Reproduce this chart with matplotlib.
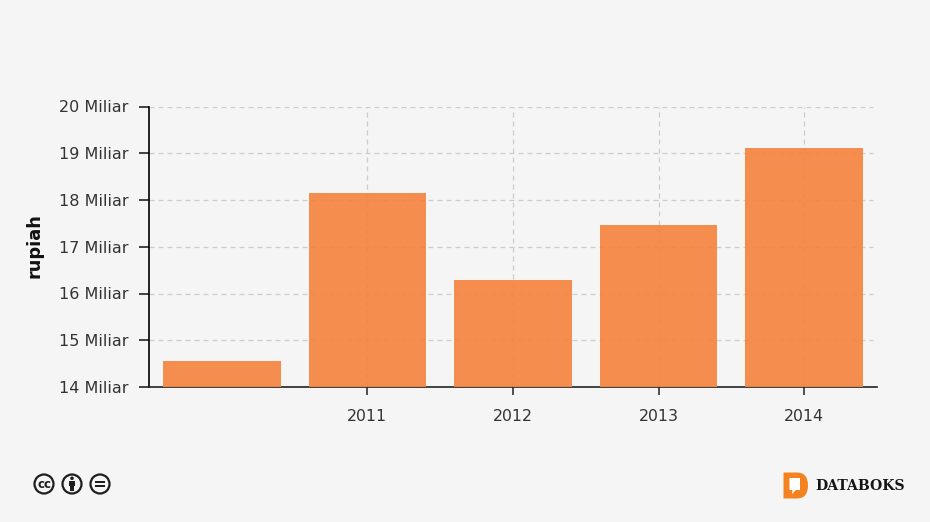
import numpy as np
import matplotlib.pyplot as plt
from matplotlib.patches import Circle, Rectangle, PathPatch, Polygon
from matplotlib.path import Path

years = ['', '2011', '2012', '2013', '2014']
values = [14.55, 18.15, 16.29, 17.47, 19.11]
yticks = [14, 15, 16, 17, 18, 19, 20]
ylabels = ['%d Miliar' % v for v in yticks]

W, H = 930, 522
bg = '#f5f5f5'
fig = plt.figure(figsize=(W/100, H/100), dpi=100, facecolor=bg)
ax = fig.add_axes([149/W, 1-387/H, 728/W, 280.5/H], facecolor=bg)

x = np.arange(len(years))
ax.bar(x, values, width=0.807, color='#f4843f', alpha=0.92, zorder=3)
ax.set_xlim(-0.5, 4.5)
ax.set_ylim(14, 20)

# grid, the empty first category gets no line
for t in yticks[1:]:
    ax.plot([-0.5, 4.47], [t, t], color='#cccccc', lw=0.9, dashes=(4, 3.2), zorder=1)
for i in x[1:]:
    ax.plot([i, i], [14, 20], color='#cccccc', lw=0.9, dashes=(4, 3.2), zorder=1)

ax.set_yticks(yticks)
ax.set_yticklabels(ylabels, fontsize=11.5, color='#333333')
ax.set_xticks(x[1:])
ax.set_xticklabels(years[1:], fontsize=11.3, color='#333333')
ax.tick_params(axis='y', length=7.2, width=1.2, color='#222222', pad=7.3)
ax.tick_params(axis='x', length=5.5, width=1.2, color='#333333', pad=10)
for s in ['top', 'right']:
    ax.spines[s].set_visible(False)
ax.spines['left'].set_color('black')
ax.spines['left'].set_linewidth(1.2)
ax.spines['bottom'].set_color('#222222')
ax.spines['bottom'].set_linewidth(1.2)
fig.text(34/W, 1-246/H, 'rupiah', rotation=90, ha='center', va='center',
         fontsize=12.8, fontweight='bold', color='#111111')

# footer, in pixel coordinates
ov = fig.add_axes([0, 0, 1, 1], facecolor='none')
ov.set_xlim(0, W)
ov.set_ylim(H, 0)
ov.axis('off')
dark = '#1e1e1e'
for cx in [44, 72, 100]:
    ov.add_patch(Circle((cx, 484), 9.5, fc='#f5f5f5', ec=dark, lw=1.6))
ov.text(44, 484, 'cc', ha='center', va='center', fontsize=8.5, fontweight='bold', color=dark)
ov.add_patch(Circle((72, 478.3), 1.8, fc=dark, ec='none'))
ov.add_patch(Rectangle((69, 480.8), 6, 4.7, fc=dark, ec='none'))
ov.add_patch(Rectangle((70.3, 485), 3.4, 6, fc=dark, ec='none'))
ov.add_patch(Rectangle((95, 480.6), 10, 2.2, fc=dark, ec='none'))
ov.add_patch(Rectangle((95, 485.2), 10, 2.2, fc=dark, ec='none'))

orange = '#f58220'
d_shape = Path([(783.5, 472.5), (797, 472.5), (808, 472.5), (808, 485.5), (808, 498.5), (797, 498.5), (783.5, 498.5), (783.5, 472.5)],
               [Path.MOVETO, Path.LINETO, Path.CURVE3, Path.CURVE3, Path.CURVE3, Path.CURVE3, Path.LINETO, Path.CLOSEPOLY])
ov.add_patch(PathPatch(d_shape, fc=orange, ec='none'))
ov.add_patch(Polygon([(789.5, 478), (800, 478), (800, 490), (796, 490), (792, 494), (792.5, 490), (789.5, 490)],
                     closed=True, fc='white', ec='none'))
ov.text(815, 486, 'DATABOKS', ha='left', va='center', fontsize=10.1, fontweight='bold',
        family='DejaVu Serif', color='#151515')

fig.savefig('out.png', dpi=100, facecolor=bg)
